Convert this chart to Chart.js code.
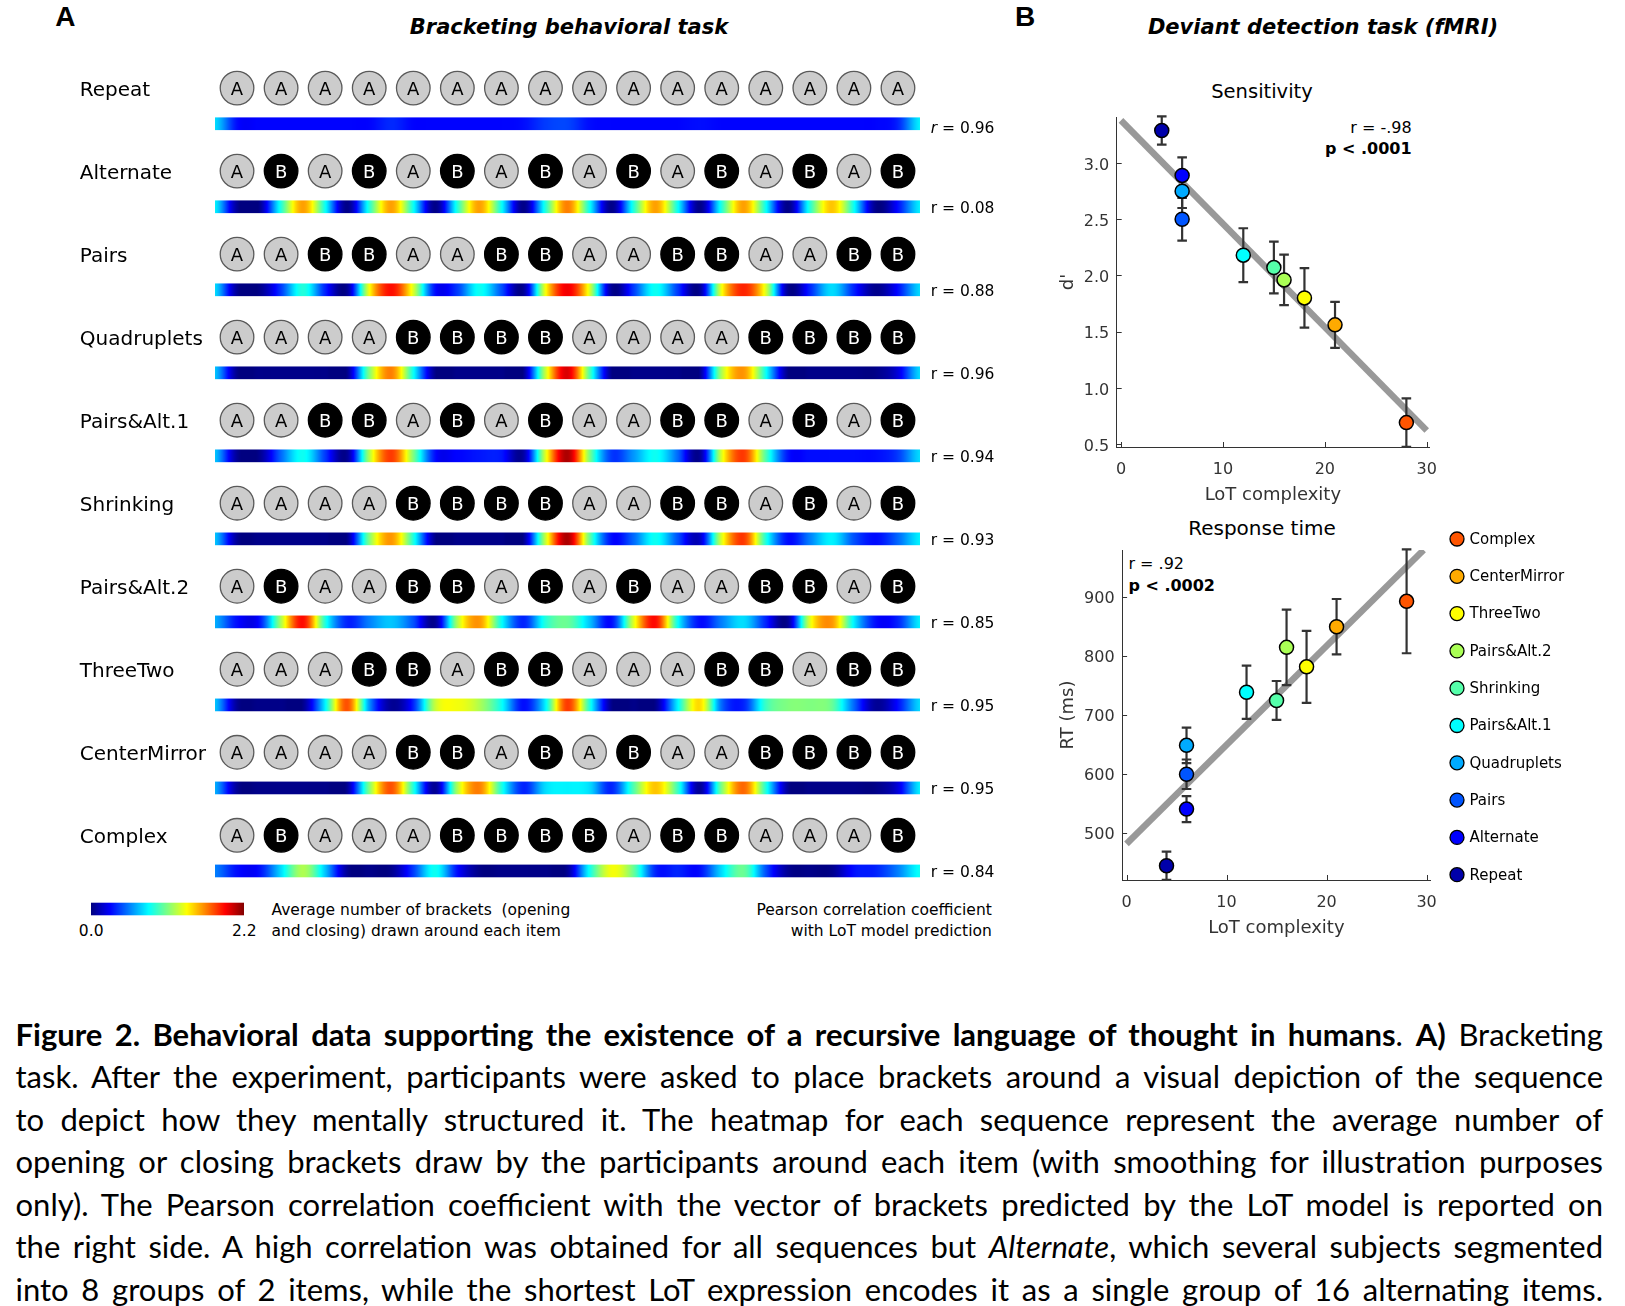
<!DOCTYPE html>
<html><head><meta charset="utf-8">
<script src="https://cdn.jsdelivr.net/npm/chart.js@4.4.1/dist/chart.umd.min.js"></script>
<style>
html,body{margin:0;padding:0;background:#fff;}
body{width:1625px;height:1306px;overflow:hidden;position:relative;font-family:'DejaVu Sans',sans-serif;color:#000;}
canvas{position:absolute;}
.t{position:absolute;white-space:pre;line-height:1;}
.c{transform:translate(-50%,-50%);}
.l{transform:translate(0,-50%);}
.r{transform:translate(-100%,-50%);}
.cap{position:absolute;left:15.5px;white-space:pre;font-family:Lato,'Open Sans',sans-serif;font-size:31px;line-height:42.5px;color:#000;}
</style></head><body>

<div class="t c" style="left:65.4px;top:16.7px;font:bold 28px 'Liberation Sans',Arial,sans-serif;">A</div>
<div class="t c" style="left:569px;top:26.7px;font:italic bold 21px 'DejaVu Sans',sans-serif;">Bracketing behavioral task</div>
<div class="t c" style="left:1025px;top:16.7px;font:bold 28px 'Liberation Sans',Arial,sans-serif;">B</div>
<div class="t c" style="left:1323px;top:26.7px;font:italic bold 21px 'DejaVu Sans',sans-serif;">Deviant detection task (fMRI)</div>

<div class="t c" style="left:91.2px;top:931.5px;font-size:15.5px;">0.0</div>
<div class="t c" style="left:244.3px;top:931.5px;font-size:15.5px;">2.2</div>
<div class="t l" style="left:271.5px;top:911px;font-size:15.5px;">Average number of brackets  (opening</div>
<div class="t l" style="left:271.5px;top:931.5px;font-size:15.5px;">and closing) drawn around each item</div>
<div class="t r" style="left:991.8px;top:911px;font-size:15.5px;">Pearson correlation coefficient</div>
<div class="t r" style="left:991.8px;top:931.5px;font-size:15.5px;">with LoT model prediction</div>

<div class="t c" style="left:1262px;top:92px;font-size:19.5px;">Sensitivity</div>
<div class="t c" style="left:1262px;top:528px;font-size:20px;">Response time</div>
<div class="t r" style="left:1411.6px;top:127.5px;font-size:16px;">r = -.98</div>
<div class="t r" style="left:1411.6px;top:148.5px;font-size:16px;font-weight:bold;">p &lt; .0001</div>
<div class="t l" style="left:1128.4px;top:564px;font-size:16px;">r = .92</div>
<div class="t l" style="left:1128.4px;top:585.5px;font-size:16px;font-weight:bold;">p &lt; .0002</div>

<canvas id="cA" width="1010" height="960" style="left:0;top:0;"></canvas>
<canvas id="cS" width="430" height="450" style="left:1020px;top:60px;"></canvas>
<canvas id="cR" width="605" height="450" style="left:1020px;top:500px;"></canvas>

<div class="cap" style="top:1012.8px;"><b>Figure 2. Behavioral data supporting the existence of a recursive language of thought in humans</b>. <b>A)</b> Bracketing</div>
<div class="cap" style="top:1055.3px;">task. After the experiment, participants were asked to place brackets around a visual depiction of the sequence</div>
<div class="cap" style="top:1097.8px;">to depict how they mentally structured it. The heatmap for each sequence represent the average number of</div>
<div class="cap" style="top:1140.3px;">opening or closing brackets draw by the participants around each item (with smoothing for illustration purposes</div>
<div class="cap" style="top:1182.8px;">only). The Pearson correlation coefficient with the vector of brackets predicted by the LoT model is reported on</div>
<div class="cap" style="top:1225.3px;">the right side. A high correlation was obtained for all sequences but <i>Alternate</i>, which several subjects segmented</div>
<div class="cap" style="top:1267.8px;">into 8 groups of 2 items, while the shortest LoT expression encodes it as a single group of 16 alternating items.</div>

<script>
// ---------------- Panel A data ----------------
const seqNames = ['Repeat','Alternate','Pairs','Quadruplets','Pairs&Alt.1','Shrinking','Pairs&Alt.2','ThreeTwo','CenterMirror','Complex'];
const seqItems = ['AAAAAAAAAAAAAAAA','ABABABABABABABAB','AABBAABBAABBAABB','AAAABBBBAAAABBBB','AABBABABAABBABAB',
                  'AAAABBBBAABBABAB','ABAABBABABAABBAB','AAABBABBAAABBABB','AAAABBABABAABBBB','ABAAABBBBABBAAAB'];
const corrR = ['0.96','0.08','0.88','0.96','0.94','0.93','0.85','0.95','0.95','0.84'];
// average brackets, sampled every half item (item boundaries and item centres), 33 values per sequence
const bracketsRepeat      = [0.75,0.3,0.28,0.28,0.28,0.28,0.28,0.28,0.36,0.28,0.28,0.28,0.28,0.28,0.3,0.4,0.42,0.3,0.28,0.28,0.28,0.28,0.3,0.28,0.28,0.28,0.28,0.28,0.28,0.28,0.28,0.35,0.8];
const bracketsAlternate   = [0.8,0.05,0.02,0.9,1.58,0.85,0.02,0.9,1.58,0.85,0.02,0.9,1.58,0.85,0.02,0.9,1.65,0.85,0.02,0.9,1.58,0.85,0.02,0.9,1.58,0.85,0.02,0.9,1.5,0.85,0.02,0.3,0.8];
const bracketsPairs       = [0.75,0.05,0.02,0.4,0.9,0.35,0.05,1.35,1.9,1.3,0.3,0.4,0.85,0.45,0.05,1.35,1.95,1.3,0.05,0.4,0.85,0.4,0.05,1.35,1.85,1.3,0.05,0.35,0.75,0.35,0.03,0.3,0.75];
const bracketsQuadruplets = [0.7,0.03,0.02,0.02,0.02,0.02,0.03,1.1,1.65,0.85,0.02,0.02,0.02,0.02,0.03,1.25,2.0,1.0,0.02,0.02,0.02,0.02,0.03,1.2,1.6,0.85,0.02,0.02,0.02,0.02,0.02,0.2,0.75];
const bracketsPairsAlt1   = [0.7,0.05,0.03,0.5,0.85,0.4,0.05,1.2,1.8,1.1,0.3,0.28,0.32,0.32,0.08,1.3,2.1,1.1,0.4,0.6,0.85,0.5,0.05,1.3,1.8,1.0,0.32,0.3,0.3,0.3,0.3,0.4,0.75];
const bracketsShrinking   = [0.7,0.05,0.02,0.02,0.02,0.02,0.03,1.1,1.6,0.9,0.02,0.02,0.02,0.02,0.03,1.25,2.1,1.05,0.3,0.5,0.85,0.45,0.15,1.3,1.8,0.9,0.3,0.55,0.8,0.45,0.3,0.5,0.8];
const bracketsPairsAlt2   = [0.65,0.3,0.3,1.2,1.9,0.9,0.35,0.55,0.7,0.45,0.05,1.2,1.6,0.85,0.35,0.9,1.05,0.7,0.3,1.3,1.9,0.85,0.3,0.55,0.75,0.35,0.05,1.3,1.6,0.8,0.3,0.35,0.8];
const bracketsThreeTwo    = [0.7,0.05,0.02,0.02,0.03,0.8,1.75,0.6,0.05,0.35,1.25,1.35,1.2,0.85,0.3,0.8,1.8,0.9,0.03,0.02,0.03,0.8,1.45,0.5,0.35,0.95,1.1,1.1,1.05,0.5,0.05,0.3,0.75];
const bracketsCenterMirror= [0.65,0.05,0.02,0.02,0.02,0.02,0.05,1.1,1.75,0.9,0.05,1.2,1.65,0.9,0.35,0.75,0.8,0.75,0.35,1.0,1.5,0.95,0.05,1.1,1.7,0.9,0.05,0.02,0.02,0.02,0.02,0.2,0.8];
const bracketsComplex     = [0.55,0.3,0.3,0.75,1.2,0.7,0.05,0.02,0.03,0.4,0.85,0.3,0.02,0.02,0.02,0.02,0.05,0.85,1.35,1.05,0.35,0.35,0.3,0.75,1.05,0.45,0.05,0.02,0.03,0.3,0.35,0.55,0.85];
const colorbarRange = [0, 2.2];

// ---------------- Panel B data ----------------
const complexity = [4, 6, 6, 6, 12, 15, 16, 18, 21, 28];
const dprime     = [3.29, 2.89, 2.50, 2.75, 2.18, 2.07, 1.96, 1.80, 1.56, 0.69];
const dprimeErr  = [0.125, 0.16, 0.19, 0.15, 0.24, 0.23, 0.225, 0.265, 0.205, 0.215];
const rtMs       = [444, 540, 599, 648, 738, 724, 814, 781, 849, 892];
const rtErr      = [24, 22, 25, 30, 45, 33, 64, 61, 47, 88];
const seqColors  = ['#0000AA','#0000FF','#0055FF','#00AAFF','#00FFFF','#55FFAA','#AAFF55','#FFFF00','#FFAA00','#FF5500'];
const fitDX = [0, 30],   fitDY = [3.38, 0.62];
const fitRtX = [0, 29.7], fitRtY = [481, 979];
const dTicks = [0.5, 1.0, 1.5, 2.0, 2.5, 3.0];
const rtTicks = [500, 600, 700, 800, 900];
const xTicks = [0, 10, 20, 30];

const allBrackets = [bracketsRepeat,bracketsAlternate,bracketsPairs,bracketsQuadruplets,bracketsPairsAlt1,
  bracketsShrinking,bracketsPairsAlt2,bracketsThreeTwo,bracketsCenterMirror,bracketsComplex];

function jet(t){
  t = Math.max(0, Math.min(1, t));
  const c = v => Math.round(255*Math.max(0, Math.min(1, v)));
  return 'rgb(' + c(Math.min(4*t-1.5, -4*t+4.5)) + ',' + c(Math.min(4*t-0.5, -4*t+3.5)) + ',' + c(Math.min(4*t+0.5, -4*t+2.5)) + ')';
}
function cr(p0,p1,p2,p3,t){const t2=t*t,t3=t2*t;return 0.5*(2*p1+(-p0+p2)*t+(2*p0-5*p1+4*p2-p3)*t2+(-p0+3*p1-3*p2+p3)*t3);}
function sampleAt(v,u){const n=v.length;let i=Math.floor(u);if(i>n-2)i=n-2;if(i<0)i=0;const t=u-i;const g=k=>v[Math.max(0,Math.min(n-1,k))];return cr(g(i-1),g(i),g(i+1),g(i+2),t);}

// ---------------- Panel A chart ----------------
const aPts=[], bPts=[];
seqItems.forEach((s,r)=>{ for(let i=0;i<s.length;i++){ (s[i]==='A'?aPts:bPts).push({x:i+1,y:r}); } });

const panelAPlugin = {
  id:'panelA',
  beforeDatasetsDraw(chart){
    const {ctx, scales:{x,y}} = chart;
    ctx.save();
    const x0 = Math.round(x.getPixelForValue(0.5)), x1 = Math.round(x.getPixelForValue(16.5));
    allBrackets.forEach((vals,r)=>{
      const yc = y.getPixelForValue(r);
      const top = yc + 29.3, h = 12.7;
      for(let px=x0; px<x1; px++){
        const xv = x.getValueForPixel(px+0.5);
        const u = (xv-0.5)*2;
        const v = Math.max(colorbarRange[0], Math.min(colorbarRange[1], sampleAt(vals,u)));
        ctx.fillStyle = jet(v/colorbarRange[1]);
        ctx.fillRect(px, top, 1, h);
      }
      // row label
      ctx.fillStyle='#000';
      ctx.font = "20px 'DejaVu Sans', sans-serif";
      ctx.textAlign='left'; ctx.textBaseline='alphabetic';
      ctx.fillText(seqNames[r], 79.8, yc + 8);
      // r label
      const barC = yc + 35.6;
      let lx = x1 + 10.7;
      if(r===0){
        const by = barC + 9.5;
        ctx.font = "oblique 15.5px 'DejaVu Sans', sans-serif";
        ctx.fillText('r', lx, by); lx += ctx.measureText('r').width;
        ctx.font = "15.5px 'DejaVu Sans', sans-serif";
        ctx.fillText(' = ' + corrR[r], lx, by);
      } else {
        const by = barC + 6;
        ctx.font = "15.5px 'DejaVu Sans', sans-serif";
        ctx.fillText('r = ' + corrR[r], lx, by);
      }
    });
    // colorbar
    const cbL = 91.2, cbR = 244.3, cbT = 902.7, cbH = 12.6;
    for(let px=Math.round(cbL); px<Math.round(cbR); px++){
      const t = (px+0.5-cbL)/(cbR-cbL);
      ctx.fillStyle = jet(t);
      ctx.fillRect(px, cbT, 1, cbH);
    }
    ctx.restore();
  },
  afterDatasetsDraw(chart){
    const {ctx} = chart;
    ctx.save();
    ctx.font = "18px 'DejaVu Sans', sans-serif";
    ctx.textAlign='center'; ctx.textBaseline='alphabetic';
    chart.data.datasets.forEach((ds,di)=>{
      const meta = chart.getDatasetMeta(di);
      ctx.fillStyle = ds.letterColor;
      meta.data.forEach(el=>{ ctx.fillText(ds.letter, el.x, el.y + 6.6); });
    });
    ctx.restore();
  }
};

new Chart(document.getElementById('cA'), {
  type:'scatter',
  data:{datasets:[
    {label:'A', data:aPts, pointRadius:16.8, pointBackgroundColor:'#cccccc', pointBorderColor:'#5a5a5a', pointBorderWidth:1.3, clip:false, letter:'A', letterColor:'#000'},
    {label:'B', data:bPts, pointRadius:16.8, pointBackgroundColor:'#000000', pointBorderColor:'#000000', pointBorderWidth:1.3, clip:false, letter:'B', letterColor:'#fff'}
  ]},
  options:{
    responsive:false, animation:false, devicePixelRatio:1, events:[],
    layout:{padding:{left:215, right:90, top:88.1, bottom:124.7}},
    scales:{
      x:{type:'linear', min:0.5, max:16.5, display:false},
      y:{type:'linear', min:0, max:9, reverse:true, display:false}
    },
    plugins:{legend:{display:false}, tooltip:{enabled:false}}
  },
  plugins:[panelAPlugin]
});

// ---------------- Panel B charts ----------------
const errorBars = {
  id:'errorBars',
  beforeDatasetDraw(chart,args){
    const ds = chart.data.datasets[args.index];
    if(!ds.errors) return;
    const {ctx, scales:{x,y}} = chart;
    ctx.save(); ctx.strokeStyle='#333'; ctx.lineWidth=2.2;
    ds.data.forEach((p,i)=>{
      const px = x.getPixelForValue(p.x);
      const y1 = y.getPixelForValue(p.y - ds.errors[i]), y2 = y.getPixelForValue(p.y + ds.errors[i]);
      ctx.beginPath();
      ctx.moveTo(px,y1); ctx.lineTo(px,y2);
      ctx.moveTo(px-4.8,y1); ctx.lineTo(px+4.8,y1);
      ctx.moveTo(px-4.8,y2); ctx.lineTo(px+4.8,y2);
      ctx.stroke();
    });
    ctx.restore();
  }
};
const inTicks = {
  id:'inTicks',
  afterDatasetsDraw(chart){
    const {ctx, chartArea:a, scales:{x,y}} = chart;
    ctx.save(); ctx.strokeStyle='#333'; ctx.lineWidth=1; ctx.beginPath();
    x.ticks.forEach(t=>{const p=Math.round(x.getPixelForValue(t.value))+0.5; ctx.moveTo(p,a.bottom); ctx.lineTo(p,a.bottom-5);});
    y.ticks.forEach(t=>{const p=Math.round(y.getPixelForValue(t.value))+0.5; ctx.moveTo(a.left,p); ctx.lineTo(a.left+5,p);});
    ctx.stroke(); ctx.restore();
  }
};
const legendPlugin = {
  id:'seqLegend',
  afterDraw(chart){
    const {ctx} = chart;
    ctx.save();
    ctx.font = "15px 'DejaVu Sans', sans-serif"; ctx.textAlign='left'; ctx.textBaseline='middle';
    for(let i=0;i<seqNames.length;i++){
      const k = seqNames.length-1-i;
      const yy = 39 + 37.3*i;
      ctx.beginPath(); ctx.arc(437, yy, 7, 0, Math.PI*2);
      ctx.fillStyle = seqColors[k]; ctx.fill();
      ctx.lineWidth=1.3; ctx.strokeStyle='#000'; ctx.stroke();
      ctx.fillStyle='#000'; ctx.fillText(seqNames[k], 449.5, yy+1);
    }
    ctx.restore();
  }
};

const tickFont = {family:"'DejaVu Sans', sans-serif", size:16};
const titleFont = {family:"'DejaVu Sans', sans-serif", size:18};

function makeScatter(canvasId, yVals, yErrs, fitX, fitY, xRange, yRange, yTicksArr, yFmt, yTitle, pad, yAxisW, xTitlePad, yTitlePad, extraPlugins){
  const pts = complexity.map((c,i)=>({x:c, y:yVals[i]}));
  return new Chart(document.getElementById(canvasId), {
    type:'scatter',
    data:{datasets:[
      {type:'line', data:fitX.map((v,i)=>({x:v,y:fitY[i]})), borderColor:'#999999', borderWidth:6.5, pointRadius:0, showLine:true, fill:false, order:2, borderCapStyle:'butt'},
      {data:pts, errors:yErrs, pointRadius:7, pointBackgroundColor:seqColors, pointBorderColor:'#000', pointBorderWidth:1.5, order:1, clip:false}
    ]},
    options:{
      responsive:false, animation:false, devicePixelRatio:1, events:[],
      layout:{padding:pad},
      scales:{
        x:{type:'linear', min:xRange[0], max:xRange[1],
           afterBuildTicks:s=>{s.ticks = xTicks.map(v=>({value:v}));},
           afterFit:s=>{s.height=60; s.paddingLeft=0; s.paddingRight=0;},
           grid:{display:false, drawTicks:false},
           border:{display:true, color:'#333', width:1},
           ticks:{font:tickFont, color:'#333', padding:13, maxRotation:0, autoSkip:false, callback:v=>String(v)},
           title:{display:true, text:'LoT complexity', font:titleFont, color:'#333', padding:{top:0,bottom:xTitlePad}}},
        y:{type:'linear', min:yRange[0], max:yRange[1],
           afterBuildTicks:s=>{s.ticks = yTicksArr.map(v=>({value:v}));},
           afterFit:s=>{s.width=yAxisW; s.paddingTop=0; s.paddingBottom=0;},
           grid:{display:false, drawTicks:false},
           border:{display:true, color:'#333', width:1},
           ticks:{font:tickFont, color:'#333', padding:7.5, labelOffset:2.6, autoSkip:false, callback:yFmt},
           title:{display:true, text:yTitle, font:titleFont, color:'#333', padding:{top:yTitlePad,bottom:0}}}
      },
      plugins:{legend:{display:false}, tooltip:{enabled:false}}
    },
    plugins:[errorBars, inTicks].concat(extraPlugins)
  });
}

makeScatter('cS', dprime, dprimeErr, fitDX, fitDY, [-0.42, 30.22], [0.473, 3.41], dTicks, v=>Number(v).toFixed(1), "d'",
  {left:36.7, right:21, top:57, bottom:3}, 60, 1.2, 0.5, []);
makeScatter('cR', rtMs, rtErr, fitRtX, fitRtY, [-0.44, 30.4], [419.8, 979], rtTicks, v=>String(v), 'RT (ms)',
  {left:36.1, right:194.4, top:50, bottom:10}, 66, 0.5, 1.1, [legendPlugin]);

// ---------------- caption justification ----------------
function justify(){
  const target = 1587.5;
  document.querySelectorAll('.cap').forEach(el=>{
    el.style.wordSpacing='0px'; el.style.transform='none';
    const w = el.getBoundingClientRect().width;
    const n = (el.textContent.match(/ /g)||[]).length;
    if(w < target && n>0){ el.style.wordSpacing = ((target-w)/n)+'px'; }
    else if(w > target){ el.style.transformOrigin='0 0'; el.style.transform='scaleX('+(target/w)+')'; }
  });
}
justify();
if(document.fonts && document.fonts.ready) document.fonts.ready.then(justify);
</script>
</body></html>
